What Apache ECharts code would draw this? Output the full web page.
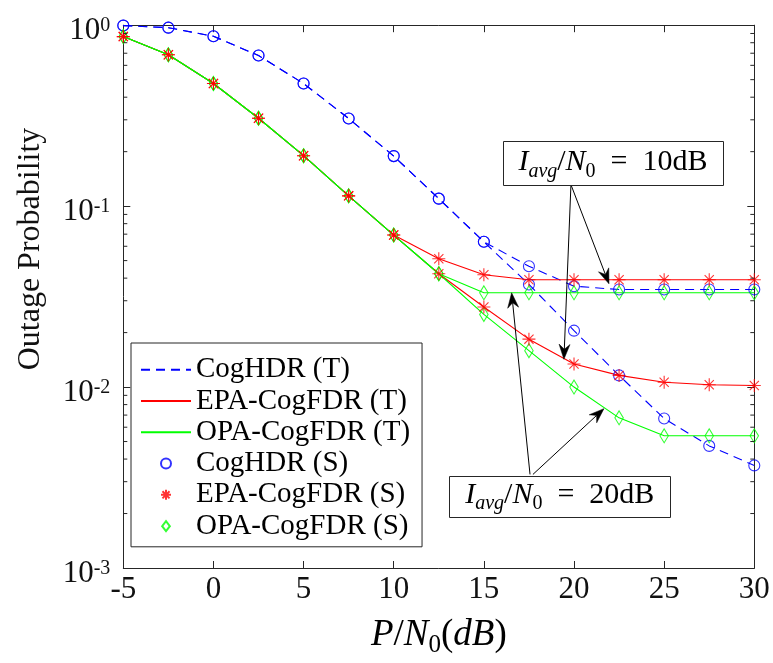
<!DOCTYPE html>
<html>
<head>
<meta charset="utf-8">
<title>Outage Probability vs P/N0</title>
<script src="https://cdn.jsdelivr.net/npm/echarts@6/dist/echarts.min.js"></script>
<style>
  html, body { margin: 0; padding: 0; background: #ffffff; }
  #chart { width: 773px; height: 663px; }
</style>
</head>
<body>
<div id="chart"></div>
<script>
// Transmit SNR grid (dB)
const snr = [-5, -2.5, 0, 2.5, 5, 7.5, 10, 12.5, 15, 17.5, 20, 22.5, 25, 27.5, 30];

// Outage probability, interference limit I_avg/N0 = 10 dB
const hdr10 = [0.995, 0.969, 0.869, 0.680, 0.476, 0.305, 0.189, 0.110, 0.0635, 0.0465, 0.0361, 0.0346, 0.0346, 0.0346, 0.0346];
const epa10 = [0.865, 0.686, 0.476, 0.306, 0.190, 0.114, 0.0692, 0.0512, 0.0418, 0.0392, 0.0392, 0.0392, 0.0392, 0.0392, 0.0392];
const opa10 = [0.865, 0.686, 0.476, 0.306, 0.190, 0.114, 0.0692, 0.0423, 0.0332, 0.0332, 0.0332, 0.0332, 0.0332, 0.0332, 0.0332];

// Outage probability, interference limit I_avg/N0 = 20 dB
const hdr20 = [0.995, 0.969, 0.869, 0.680, 0.476, 0.305, 0.189, 0.110, 0.0635, 0.0369, 0.0205, 0.0116, 0.0067, 0.00473, 0.00369];
const epa20 = [0.865, 0.686, 0.476, 0.306, 0.190, 0.114, 0.0692, 0.0423, 0.0277, 0.0184, 0.0134, 0.0116, 0.01064, 0.0103, 0.0102];
const opa20 = [0.865, 0.686, 0.476, 0.306, 0.190, 0.114, 0.0692, 0.0423, 0.0252, 0.0159, 0.0100, 0.00676, 0.00538, 0.00538, 0.00538];

// Legend names: theory curves, then simulation markers
const theoryNames = ['CogHDR (T)', 'EPA-CogFDR (T)', 'OPA-CogFDR (T)'];
const simNames = ['CogHDR (S)', 'EPA-CogFDR (S)', 'OPA-CogFDR (S)'];

// Log-axis minor tick values (2..9 within each decade)
const minorMantissas = [2, 3, 4, 5, 6, 7, 8, 9];
const minorDecades = [0.001, 0.01, 0.1];

// Annotation anchors in data coordinates [dB, probability]
const noteBoxes = [
  { value: '10dB', center: [22.16, 0.1723], w: 220, h: 44 },
  { value: '20dB', center: [19.21, 0.002494], w: 221, h: 41 }
];
const noteArrows = [
  { from: [19.83, 0.1314], to: [19.44, 0.01424] },
  { from: [19.83, 0.1314], to: [21.94, 0.0372] },
  { from: [17.56, 0.00329], to: [16.54, 0.0332] },
  { from: [17.72, 0.00329], to: [21.66, 0.0076] }
];

const SERIF = '"Liberation Serif", "Times New Roman", serif';
const AXIS = '#262626';
const BLUE = '#0000ff', RED = '#ff0000', GREEN = '#00ff00';
const STAR = 'path://M0,-10L0,10M-10,0L10,0M-7.07,-7.07L7.07,7.07M-7.07,7.07L7.07,-7.07';
const DIAMOND = 'path://M0,-13L10,0L0,13L-10,0Z';

function pairs(ys) { return snr.map((x, i) => [x, ys[i]]); }

function theory(name, ys, color, dashed) {
  return {
    type: 'line', name: name, data: pairs(ys), symbol: 'none', silent: true, z: 3,
    lineStyle: { color: color, width: 1.1, type: dashed ? [9, 6] : 'solid' },
    itemStyle: { color: color }
  };
}
function sim(name, ys, color, symbol, size) {
  return {
    type: 'scatter', name: name, data: pairs(ys), symbol: symbol, symbolSize: size,
    symbolKeepAspect: true, silent: true, z: 4,
    itemStyle: { color: 'rgba(0,0,0,0)', borderColor: color, borderWidth: 1.1 }
  };
}

// Math-style rich text pieces
const mathRich = (main, sub) => ({
  i: { fontFamily: SERIF, fontStyle: 'italic', fontSize: main, lineHeight: main + 4, verticalAlign: 'top', color: '#000' },
  m: { fontFamily: SERIF, fontSize: main, lineHeight: main + 4, verticalAlign: 'top', color: '#000' },
  si: { fontFamily: SERIF, fontStyle: 'italic', fontSize: sub, lineHeight: Math.round(main * 0.55), verticalAlign: 'bottom', color: '#000' },
  su: { fontFamily: SERIF, fontSize: sub, lineHeight: Math.round(main * 0.55), verticalAlign: 'bottom', color: '#000' }
});

const chart = echarts.init(document.getElementById('chart'), null, { renderer: 'canvas' });

function axisCommon() {
  return {
    axisLine: { show: true, onZero: false, lineStyle: { color: AXIS, width: 1 } },
    axisTick: { show: true, inside: true, length: 7, lineStyle: { color: AXIS, width: 1 } },
    splitLine: { show: false }
  };
}

const option = {
  animation: false,
  backgroundColor: '#ffffff',
  grid: { left: 123.3, right: 18.7, top: 25.2, bottom: 90.3, containLabel: false },
  xAxis: [
    Object.assign({
      type: 'value', min: -5, max: 30, interval: 5, position: 'bottom',
      axisLabel: { fontFamily: SERIF, fontSize: 31, color: '#111', margin: 6 },
      name: '{i|P}{m|/}{i|N}{su|0}{m|(}{i|dB}{m|)}',
      nameLocation: 'middle', nameGap: 49,
      nameTextStyle: { rich: mathRich(37, 25) }
    }, axisCommon()),
    Object.assign({
      type: 'value', min: -5, max: 30, interval: 5, position: 'top',
      axisLabel: { show: false }
    }, axisCommon())
  ],
  yAxis: [
    Object.assign({
      type: 'log', logBase: 10, min: 0.001, max: 1, interval: 1, position: 'left',
      axisLabel: {
        margin: 13, padding: [12, 0, 0, 0],
        formatter: v => '{b|10}{s|' + Math.round(Math.log10(v)) + '}',
        rich: {
          b: { fontFamily: SERIF, fontSize: 31, lineHeight: 31, verticalAlign: 'bottom', color: '#111' },
          s: { fontFamily: SERIF, fontSize: 20, lineHeight: 20, verticalAlign: 'top', color: '#111' }
        }
      }
    }, axisCommon()),
    Object.assign({
      type: 'log', logBase: 10, min: 0.001, max: 1, interval: 1, position: 'right',
      axisLabel: { show: false }
    }, axisCommon())
  ],
  legend: {
    orient: 'vertical', left: 131, top: 343,
    data: theoryNames.map(n => ({ name: n, itemStyle: { opacity: 0 } }))
      .concat(simNames.map(n => ({ name: n }))),
    selectedMode: false,
    itemWidth: 50, itemHeight: 10, itemGap: 0,
    padding: [11, 12, 5, 9],
    borderColor: AXIS, borderWidth: 1, backgroundColor: '#ffffff',
    textStyle: { fontFamily: SERIF, fontSize: 29, lineHeight: 31.3, color: '#000' }
  },
  series: [
    theory(theoryNames[0], hdr10, BLUE, true),
    theory(theoryNames[0], hdr20, BLUE, true),
    theory(theoryNames[1], epa10, RED, false),
    theory(theoryNames[1], epa20, RED, false),
    theory(theoryNames[2], opa10, GREEN, false),
    theory(theoryNames[2], opa20, GREEN, false),
    sim(simNames[0], hdr10, BLUE, 'circle', 11),
    sim(simNames[0], hdr20, BLUE, 'circle', 11),
    sim(simNames[2], opa10, GREEN, DIAMOND, [11, 14]),
    sim(simNames[2], opa20, GREEN, DIAMOND, [11, 14]),
    sim(simNames[1], epa10, RED, STAR, 13),
    sim(simNames[1], epa20, RED, STAR, 13)
  ]
};

chart.setOption(option);

// Overlay: minor log ticks, y-axis title, annotation boxes and arrows
function px(pt) { return chart.convertToPixel({ gridIndex: 0 }, pt); }

const graphics = [];
const leftX = px([-5, 1])[0], rightX = px([30, 1])[0];
minorDecades.forEach(d => {
  minorMantissas.forEach(m => {
    const y = px([-5, m * d])[1];
    graphics.push({ type: 'line', silent: true, z: 10, shape: { x1: leftX, y1: y, x2: leftX + 4, y2: y }, style: { stroke: AXIS, lineWidth: 1 } });
    graphics.push({ type: 'line', silent: true, z: 10, shape: { x1: rightX, y1: y, x2: rightX - 4, y2: y }, style: { stroke: AXIS, lineWidth: 1 } });
  });
});

graphics.push({
  type: 'text', silent: true, x: 31, y: 249, rotation: Math.PI / 2,
  style: { text: 'Outage Probability', font: '32px ' + SERIF, fill: '#111', align: 'center', verticalAlign: 'middle' }
});

noteArrows.forEach(a => {
  const p0 = px(a.from), p1 = px(a.to);
  const dx = p1[0] - p0[0], dy = p1[1] - p0[1];
  const len = Math.hypot(dx, dy), ux = dx / len, uy = dy / len;
  const L = 15, W = 5.5, notch = 10;
  const bx = p1[0] - ux * L, by = p1[1] - uy * L;
  const nx = p1[0] - ux * notch, ny = p1[1] - uy * notch;
  graphics.push({ type: 'line', silent: true, z: 20, shape: { x1: p0[0], y1: p0[1], x2: nx, y2: ny }, style: { stroke: '#000', lineWidth: 1 } });
  graphics.push({
    type: 'polygon', silent: true, z: 20,
    shape: { points: [[p1[0], p1[1]], [bx - uy * W, by + ux * W], [nx, ny], [bx + uy * W, by - ux * W]] },
    style: { fill: '#000', stroke: '#000', lineWidth: 0.5 }
  });
});

noteBoxes.forEach(b => {
  const c = px(b.center);
  graphics.push({
    type: 'rect', silent: true, z: 21,
    shape: { x: Math.round(c[0] - b.w / 2) + 0.5, y: Math.round(c[1] - b.h / 2) + 0.5, width: b.w, height: b.h },
    style: { fill: '#ffffff', stroke: AXIS, lineWidth: 1 }
  });
  graphics.push({
    type: 'text', silent: true, z: 22, x: c[0], y: c[1] + 1,
    style: {
      text: '{i|I}{si|avg}{m|/}{i|N}{su|0}{m|\u2002=\u2002' + b.value + '}',
      rich: mathRich(30, 20), align: 'center', verticalAlign: 'middle'
    }
  });
});

chart.setOption({ graphic: graphics });
</script>
</body>
</html>
